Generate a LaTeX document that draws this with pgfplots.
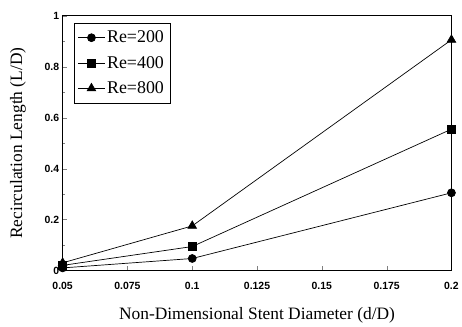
\documentclass[border=0pt]{standalone}
\usepackage{pgfplots}
\pgfplotsset{compat=1.18}
\usepackage{fontspec}
\setmainfont{Liberation Serif}
\newfontfamily\ticksf{Liberation Sans}
\begin{document}
\begin{tikzpicture}
\begin{axis}[
  scale only axis, width=391pt, height=256pt,
  xmin=0.05, xmax=0.2, ymin=0, ymax=1,
  xtick={0.05,0.075,0.1,0.125,0.15,0.175,0.2},
  xticklabels={0.05,0.075,0.1,0.125,0.15,0.175,0.2},
  ytick={0,0.2,0.4,0.6,0.8,1},
  yticklabels={0,0.2,0.4,0.6,0.8,1},
  minor y tick num=1,
  tick align=inside, xtick pos=bottom, ytick pos=left,
  major tick length=4pt, minor tick length=2.5pt,
  axis line style={line width=0.9pt},
  /pgf/number format/assume math mode=true,
  tick label style={font=\ticksf\bfseries\fontsize{10.5}{12}\selectfont},
  xticklabel style={yshift=-8pt},
  xlabel={Non-Dimensional Stent Diameter (d/D)},
  ylabel={Recirculation Length (L/D)},
  label style={font=\fontsize{17.5}{19}\selectfont},
  xlabel style={at={(axis description cs:0.5,-0.176)}, anchor=center},
  ylabel style={at={(axis description cs:-0.115,0.5)}, anchor=center},
  clip=false,
  legend style={at={(0.028,0.973)}, anchor=north west, font=\fontsize{18}{20}\selectfont, draw=black, line width=0.6pt, inner xsep=4pt, inner ysep=6pt, row sep=8pt},
  legend cell align=left,
  legend image code/.code={\draw[mark repeat=2,mark phase=2] plot coordinates {(0cm,0cm) (0.47cm,0cm) (0.94cm,0cm)};},
  every axis plot/.append style={black, line width=0.7pt},
]
\addplot[mark=*, mark size=4pt] coordinates {(0.05,0.01) (0.1,0.047) (0.2,0.305)};
\addlegendentry{Re=200}
\addplot[mark=square*, mark size=4pt] coordinates {(0.05,0.02) (0.1,0.094) (0.2,0.555)};
\addlegendentry{Re=400}
\addplot[mark=triangle*, mark size=5pt] coordinates {(0.05,0.03) (0.1,0.175) (0.2,0.906)};
\addlegendentry{Re=800}
\end{axis}
\path (current axis.south west) ++(-63pt,-56pt) rectangle ++(462pt,328pt);
\end{tikzpicture}
\end{document}
